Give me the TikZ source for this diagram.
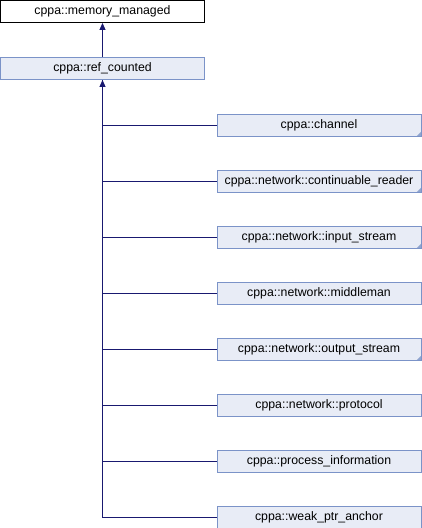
\documentclass[tikz,border=0pt]{standalone}
\usepackage{fontspec}
\setmainfont{Liberation Sans}
\usetikzlibrary{arrows.meta}
\definecolor{boxfill}{HTML}{E8ECF6}
\definecolor{boxline}{HTML}{7B93C8}
\definecolor{edgecol}{HTML}{191970}
\definecolor{cornercol}{HTML}{8FA4CF}
\tikzset{
  cls/.style={draw=boxline, fill=boxfill, line width=0.9pt, minimum width=204pt, minimum height=22pt, inner sep=0pt, font=\fontsize{12.3}{14}\selectfont},
  topcls/.style={cls, draw=black, fill=white},
  edge/.style={draw=edgecol, line width=1pt},
  inh/.style={edge, -{Triangle[length=7pt,width=6pt]}},
}
\newcommand{\fold}[1]{\fill[cornercol] ([xshift=-0.5pt,yshift=0.5pt]#1.south east) -- ++(-4pt,0) -- ++(4pt,4pt) -- cycle;}
\begin{document}
\begin{tikzpicture}[x=1pt,y=-1pt]
\useasboundingbox (0,0) rectangle (422,528);
\node[topcls] (mm) at (102.5,11.5) {cppa::memory\_managed};
\node[cls] (rc) at (102.5,68.5) {cppa::ref\_counted};
\draw[inh] (rc.north) -- (mm.south);
\foreach \n/\t [count=\i from 0] in {ch/cppa::channel, cr/cppa::network::continuable\_reader, is/cppa::network::input\_stream, mi/cppa::network::middleman, os/cppa::network::output\_stream, pr/cppa::network::protocol, pi/cppa::process\_information, wp/cppa::weak\_ptr\_anchor}{
  \node[cls] (\n) at (319,125+56*\i) {\t};
}
\fold{ch}\fold{cr}\fold{is}\fold{os}
\coordinate (bend) at (rc.south |- wp.west);
\draw[edge] (wp.west) -- (bend) -- (rc.south);
\draw[inh] ([yshift=-12pt]rc.south) -- (rc.south);
\foreach \n in {ch,cr,is,mi,os,pr,pi}{
  \draw[edge] (\n.west) -- (rc.south |- \n.west);
}
\end{tikzpicture}
\end{document}
